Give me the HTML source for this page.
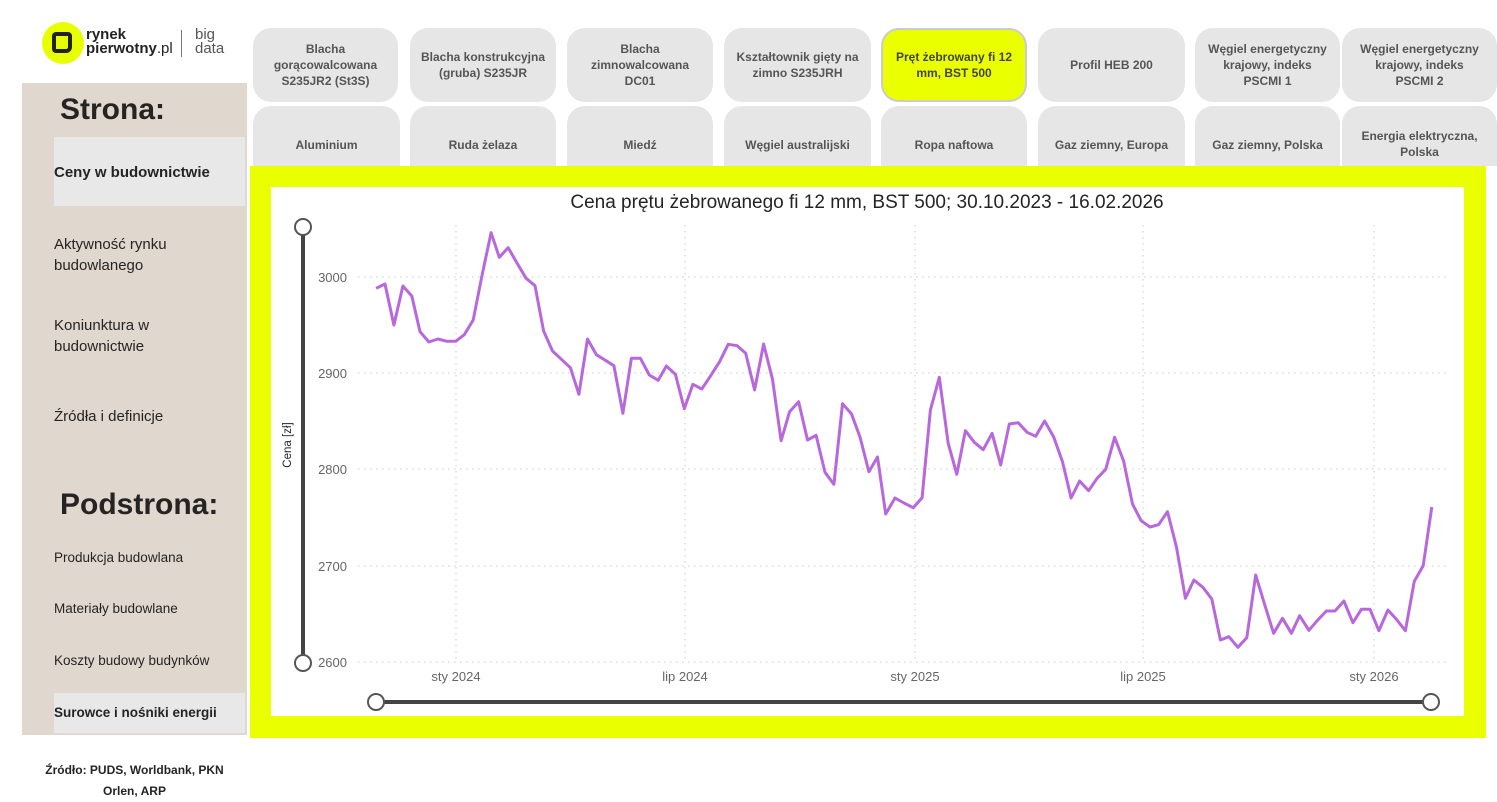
<!DOCTYPE html>
<html><head><meta charset="utf-8"><style>
*{margin:0;padding:0;box-sizing:border-box}
body{width:1497px;height:801px;background:#fff;position:relative;overflow:hidden;font-family:"Liberation Sans",sans-serif;color:#252423}
.a{position:absolute}
.btn{position:absolute;background:#e6e6e6;border-radius:18px;display:flex;align-items:center;justify-content:center;text-align:center;font-size:12px;font-weight:bold;color:#555;line-height:16px;padding:0 8px}
.r2{height:60px;align-items:flex-start;padding-top:31px;border-radius:18px 18px 0 0}
.nav{position:absolute;left:54px;font-size:15px;line-height:21px;color:#252423}
.sub{position:absolute;left:54px;font-size:13.5px;color:#252423}
</style></head><body>
<div class="a" style="left:42px;top:22px;width:42px;height:42px;border-radius:50%;background:#e8ff00"></div>
<div class="a" style="left:52px;top:32px;width:20px;height:21px;border:4px solid #222;border-radius:4px 4px 6px 4px"></div>
<div class="a" style="left:86px;top:28px;font-size:15px;line-height:14px;font-weight:bold;color:#222">rynek<br>pierwotny<span style="font-weight:normal">.pl</span></div>
<div class="a" style="left:181px;top:30px;width:1px;height:27px;background:#777"></div>
<div class="a" style="left:195px;top:28px;font-size:15px;line-height:14px;color:#555">big<br>data</div>
<div class="a" style="left:22px;top:83px;width:225px;height:652px;background:#e0d7ce"></div>
<div class="a" style="left:60px;top:93px;font-size:30px;font-weight:bold">Strona:</div>
<div class="a" style="left:54px;top:137px;width:191px;height:69px;background:#e8e8e8"></div>
<div class="nav" style="top:162px;font-weight:bold">Ceny w budownictwie</div>
<div class="nav" style="top:234px">Aktywność rynku<br>budowlanego</div>
<div class="nav" style="top:315px">Koniunktura w<br>budownictwie</div>
<div class="nav" style="top:406px">Źródła i definicje</div>
<div class="a" style="left:60px;top:488px;font-size:30px;font-weight:bold">Podstrona:</div>
<div class="sub" style="top:550px">Produkcja budowlana</div>
<div class="sub" style="top:601px">Materiały budowlane</div>
<div class="sub" style="top:653px">Koszty budowy budynków</div>
<div class="a" style="left:54px;top:693px;width:191px;height:40px;background:#e8e8e8"></div>
<div class="sub" style="top:705px;font-weight:bold">Surowce i nośniki energii</div>
<div class="a" style="left:22px;top:760px;width:225px;text-align:center;font-size:12px;font-weight:bold;line-height:21px">Źródło: PUDS, Worldbank, PKN<br>Orlen, ARP</div>
<div class="btn" style="left:253px;top:28px;width:145px;height:74px">Blacha gorącowalcowana S235JR2 (St3S)</div>
<div class="btn" style="left:410px;top:28px;width:146px;height:74px">Blacha konstrukcyjna (gruba) S235JR</div>
<div class="btn" style="left:567px;top:28px;width:146px;height:74px">Blacha zimnowalcowana DC01</div>
<div class="btn" style="left:724px;top:28px;width:147px;height:74px">Kształtownik gięty na zimno S235JRH</div>
<div class="btn" style="left:881px;top:28px;width:146px;height:74px;background:#eaff00;border:2px solid #ccc;color:#444">Pręt żebrowany fi 12 mm, BST 500</div>
<div class="btn" style="left:1038px;top:28px;width:147px;height:74px">Profil HEB 200</div>
<div class="btn" style="left:1195px;top:28px;width:145px;height:74px">Węgiel energetyczny krajowy, indeks PSCMI 1</div>
<div class="btn" style="left:1342px;top:28px;width:155px;height:74px;padding:0 14px">Węgiel energetyczny krajowy, indeks PSCMI 2</div>
<div class="btn r2" style="left:253px;top:106px;width:147px">Aluminium</div>
<div class="btn r2" style="left:410px;top:106px;width:146px">Ruda żelaza</div>
<div class="btn r2" style="left:567px;top:106px;width:146px">Miedź</div>
<div class="btn r2" style="left:724px;top:106px;width:147px">Węgiel australijski</div>
<div class="btn r2" style="left:881px;top:106px;width:146px">Ropa naftowa</div>
<div class="btn r2" style="left:1038px;top:106px;width:147px">Gaz ziemny, Europa</div>
<div class="btn r2" style="left:1195px;top:106px;width:145px">Gaz ziemny, Polska</div>
<div class="btn r2" style="left:1342px;top:106px;width:155px;padding-top:22px">Energia elektryczna, Polska</div>
<div class="a" style="left:250px;top:166px;width:1236px;height:572px;background:#eaff00"></div>
<div class="a" style="left:271px;top:187px;width:1193px;height:529px;background:#fff"></div>
<svg class="a" style="left:0;top:0" width="1497" height="801">
<g font-family="Liberation Sans, sans-serif">
<text x="867" y="208" text-anchor="middle" font-size="19" fill="#252423">Cena prętu żebrowanego fi 12 mm, BST 500; 30.10.2023 - 16.02.2026</text>
<g stroke="#c8c8c8" stroke-width="1" stroke-dasharray="1.5,4.5">
<line x1="358" x2="1447" y1="277" y2="277"/><line x1="358" x2="1447" y1="373" y2="373"/><line x1="358" x2="1447" y1="469" y2="469"/><line x1="358" x2="1447" y1="566" y2="566"/><line x1="358" x2="1447" y1="662" y2="662"/>
<line x1="456" x2="456" y1="225" y2="662"/><line x1="685" x2="685" y1="225" y2="662"/><line x1="915" x2="915" y1="225" y2="662"/><line x1="1143" x2="1143" y1="225" y2="662"/><line x1="1374" x2="1374" y1="225" y2="662"/>
</g>
<g font-size="13" fill="#666" text-anchor="end">
<text x="347" y="282">3000</text><text x="347" y="378">2900</text><text x="347" y="474">2800</text><text x="347" y="571">2700</text><text x="347" y="667">2600</text>
</g>
<g font-size="13" fill="#666" text-anchor="middle">
<text x="456" y="681">sty 2024</text><text x="685" y="681">lip 2024</text><text x="915" y="681">sty 2025</text><text x="1143" y="681">lip 2025</text><text x="1374" y="681">sty 2026</text>
</g>
<text transform="translate(291,445) rotate(-90)" font-size="11.5" fill="#252423" text-anchor="middle">Cena [zł]</text>
<polyline fill="none" stroke="#b868dd" stroke-width="3" stroke-linejoin="round" points="376.1,288.3 385,284 393.9,325 402.9,286 411.8,296 420,331.7 428.9,342 437.9,339 446.8,341.3 455.7,341.3 464.3,334.7 473.2,320 482.1,275 491.1,232.7 499.3,257.3 508.2,247.7 517.1,263.3 526.1,278.3 535,285.7 543.6,331 552.5,351 561.4,359.3 570.4,367.7 578.9,394.3 587.5,339 596.4,354.7 605.4,360.3 613.9,365.7 622.9,413.3 631.4,358.3 640.4,358.3 649.3,375 658.2,380.3 666.4,366 675.4,374.3 684.3,408.7 692.9,384.3 701.8,389 710.7,375.7 719.6,361.7 728.2,344.3 737.1,345.7 745.7,353.3 754.6,390 763.6,344 772.5,379.3 781.1,440.7 789.6,411.7 798.6,401.7 807.5,440 816.1,435.3 825,472.3 833.9,484.3 842.5,403.7 851.4,413.7 860,437 868.9,471.7 877.5,457 885.7,514 895,498 904,503 913.2,507.7 922.1,497.7 930.4,410 939.3,377.3 948.2,443.3 956.8,474.3 965.4,430.7 974.3,442.3 983.2,449.7 992.1,433.3 1000.7,465 1009.3,424 1018.2,422.7 1027.1,432.3 1035.7,436.3 1044.6,421 1053.6,436.7 1062.5,461.7 1071.1,498 1079.6,481 1088.6,490.7 1097.1,478.3 1105.7,469.3 1114.6,437.3 1123.6,461 1132.5,504 1141.1,520.7 1150,527 1158.6,524.7 1167.5,511.7 1176.4,546.7 1185.4,598.3 1193.9,580 1202.9,587.3 1211.8,599 1220.4,640 1228.9,636.7 1237.9,647.3 1246.8,637.7 1255.7,575 1264.6,604.3 1273.6,633.3 1282.5,618.3 1291.4,633.3 1299.6,615.7 1308.9,630.3 1317.5,620.3 1326.4,611 1335,611 1343.9,601 1352.9,622.7 1361.4,609.3 1370,609.3 1378.9,630.7 1387.9,610 1396.4,619.3 1405.4,630.7 1414.3,581.3 1423.2,565.7 1431.8,507"/>
<line x1="303" y1="227" x2="303" y2="663" stroke="#444" stroke-width="4"/>
<circle cx="303" cy="227" r="8" fill="#fff" stroke="#555" stroke-width="2"/>
<circle cx="303" cy="663" r="8" fill="#fff" stroke="#555" stroke-width="2"/>
<line x1="376" y1="702" x2="1431" y2="702" stroke="#444" stroke-width="4"/>
<circle cx="376" cy="702" r="8" fill="#fff" stroke="#555" stroke-width="2"/>
<circle cx="1431" cy="702" r="8" fill="#fff" stroke="#555" stroke-width="2"/>
</g>
</svg>
</body></html>
